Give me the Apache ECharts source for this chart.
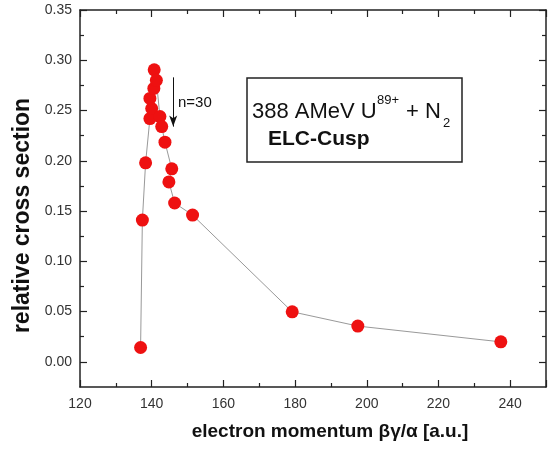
<!DOCTYPE html>
<html>
<head>
<meta charset="utf-8">
<script src="https://cdn.jsdelivr.net/npm/echarts@6/dist/echarts.min.js"></script>
<style>
  html, body { margin: 0; padding: 0; background: #fff; }
  #chart { width: 551px; height: 453px; }
</style>
</head>
<body>
<div id="chart"></div>
<script>
// measured points, in plotted order
var momentum = [136.9, 137.4, 138.3, 139.5, 140.0, 139.5, 140.6, 140.7, 141.3, 142.3, 142.8, 143.7, 145.6, 144.8, 146.4, 151.4, 179.2, 197.5, 237.4];
var crossSection = [0.0143, 0.141, 0.198, 0.242, 0.252, 0.262, 0.272, 0.2905, 0.280, 0.244, 0.234, 0.2185, 0.192, 0.179, 0.158, 0.146, 0.0498, 0.0356, 0.0199];

var yMajorTicks = [0, 0.05, 0.1, 0.15, 0.2, 0.25, 0.3, 0.35];
var yMinorTicks = [0.025, 0.075, 0.125, 0.175, 0.225, 0.275, 0.325];

// arrow marking n=30 (data coords)
var arrowX = 146;
var arrowFrom = 0.283;
var arrowTo = 0.234;

var chart = echarts.init(document.getElementById("chart"));

var axisColor = "#222";
var font = "'Liberation Sans', Arial, sans-serif";

function xAxisDef(pos, showLabel) {
  return {
    type: "value",
    position: pos,
    min: 120,
    max: 250,
    interval: 20,
    axisLine: { show: true, onZero: false, lineStyle: { color: axisColor, width: 1.5 } },
    axisTick: { show: true, inside: true, length: 7, lineStyle: { color: axisColor, width: 1.2 } },
    minorTick: { show: true, splitNumber: 2, length: 4, lineStyle: { color: axisColor, width: 1.2 } },
    splitLine: { show: false },
    axisLabel: {
      show: showLabel,
      showMaxLabel: false,
      color: "#333",
      fontSize: 14,
      fontFamily: font,
      margin: 10,
    },
  };
}

function yAxisDef(pos, ticks, len, showLabel, showLine) {
  return {
    type: "value",
    position: pos,
    min: -0.025,
    max: 0.35,
    axisLine: { show: showLine, onZero: false, lineStyle: { color: axisColor, width: 1.5 } },
    axisTick: {
      show: true,
      inside: true,
      length: len,
      customValues: ticks,
      lineStyle: { color: axisColor, width: 1.2 },
    },
    splitLine: { show: false },
    axisLabel: {
      show: showLabel,
      customValues: ticks,
      color: "#333",
      fontSize: 14,
      fontFamily: font,
      margin: 8,
      formatter: function (v) {
        return v.toFixed(2);
      },
    },
  };
}

var yMain = yAxisDef("left", yMajorTicks, 7, true, true);
yMain.name = "relative cross section";
yMain.nameLocation = "middle";
yMain.nameGap = 37;
yMain.nameTextStyle = { color: "#111", fontSize: 23, fontWeight: "bold", fontFamily: font, padding: [0, 34, 0, 0] };

var xMain = xAxisDef("bottom", true);
xMain.name = "electron momentum βγ/α [a.u.]";
xMain.nameLocation = "middle";
xMain.nameGap = 35;
xMain.nameTextStyle = { color: "#111", fontSize: 19, fontWeight: "bold", fontFamily: font, padding: [0, 0, 0, 34] };

var points = momentum.map(function (x, i) {
  return [x, crossSection[i]];
});

chart.setOption({
  animation: false,
  backgroundColor: "#fff",
  grid: { left: 80, right: 5, top: 10, bottom: 66, containLabel: false },
  xAxis: [xMain, xAxisDef("top", false)],
  yAxis: [
    yMain,
    yAxisDef("left", yMinorTicks, 4, false, false),
    yAxisDef("right", yMajorTicks, 7, false, true),
    yAxisDef("right", yMinorTicks, 4, false, false),
  ],
  series: [
    {
      type: "line",
      data: points,
      xAxisIndex: 0,
      yAxisIndex: 0,
      symbol: "circle",
      symbolSize: 13,
      itemStyle: { color: "#ee1111" },
      lineStyle: { color: "#999", width: 1 },
      z: 3,
      markLine: {
        silent: true,
        symbol: ["none", "arrow"],
        symbolSize: [6, 11],
        label: { show: false },
        lineStyle: { color: "#111", width: 1, type: "solid" },
        data: [[{ coord: [arrowX, arrowFrom] }, { coord: [arrowX, arrowTo] }]],
      },
    },
  ],
  graphic: [
    {
      type: "rect",
      shape: { x: 247, y: 78, width: 215, height: 84 },
      style: { fill: "#fff", stroke: axisColor, lineWidth: 1.5 },
    },
    {
      type: "text",
      style: { x: 252, y: 112, text: "388 AMeV U", font: "22px " + font, fill: "#111", textVerticalAlign: "middle" },
    },
    {
      type: "text",
      style: { x: 377, y: 100, text: "89+", font: "13px " + font, fill: "#111", textVerticalAlign: "middle" },
    },
    {
      type: "text",
      style: { x: 406, y: 112, text: "+ N", font: "22px " + font, fill: "#111", textVerticalAlign: "middle" },
    },
    {
      type: "text",
      style: { x: 443, y: 123, text: "2", font: "13px " + font, fill: "#111", textVerticalAlign: "middle" },
    },
    {
      type: "text",
      style: { x: 268, y: 139, text: "ELC-Cusp", font: "bold 21px " + font, fill: "#111", textVerticalAlign: "middle" },
    },
    {
      type: "text",
      style: { x: 178, y: 103, text: "n=30", font: "15px " + font, fill: "#111", textVerticalAlign: "middle" },
    },
  ],
});
</script>
</body>
</html>
